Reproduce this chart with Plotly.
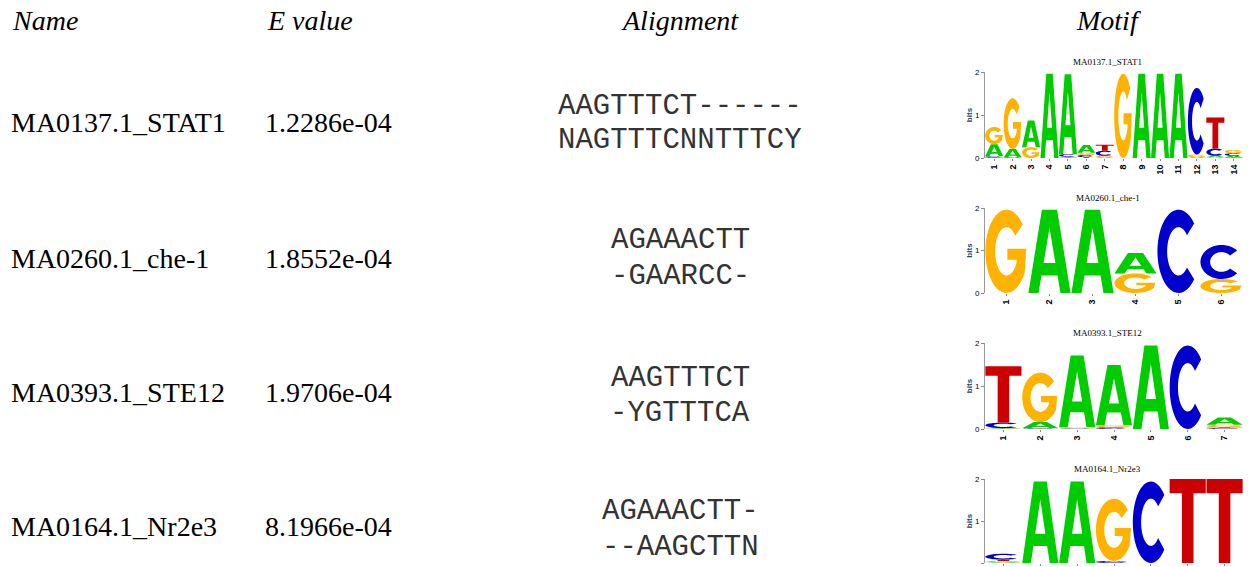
import numpy as np
import plotly.graph_objects as go

W, H = 1260, 567

# ---------------- table data ----------------
headers = ["Name", "E value", "Alignment", "Motif"]
names = ["MA0137.1_STAT1", "MA0260.1_che-1", "MA0393.1_STE12", "MA0164.1_Nr2e3"]
evalues = ["1.2286e-04", "1.8552e-04", "1.9706e-04", "8.1966e-04"]
align_query = ["AAGTTTCT------", "AGAAACTT", "AAGTTTCT", "AGAAACTT-"]
align_target = ["NAGTTTCNNTTTCY", "-GAARCC-", "-YGTTTCA", "--AAGCTTN"]

# ---------------- motif logo data (bits per letter per position) ----------------
stat1_A = [0.28, 0.20, 0.62, 1.96, 1.86, 0.18, 0.02, 0.00, 1.96, 1.96, 1.96, 0.02, 0.03, 0.04]
stat1_C = [0.03, 0.01, 0.00, 0.00, 0.06, 0.05, 0.12, 0.00, 0.00, 0.00, 0.00, 1.55, 0.17, 0.06]
stat1_G = [0.40, 1.18, 0.25, 0.00, 0.02, 0.05, 0.03, 1.96, 0.00, 0.00, 0.00, 0.06, 0.02, 0.08]
stat1_T = [0.01, 0.00, 0.00, 0.00, 0.01, 0.02, 0.14, 0.00, 0.00, 0.00, 0.00, 0.00, 0.72, 0.01]

che1_A = [0.00, 1.96, 1.96, 0.48, 0.00, 0.00]
che1_C = [0.00, 0.00, 0.00, 0.00, 1.96, 0.80]
che1_G = [1.96, 0.00, 0.00, 0.46, 0.00, 0.33]
che1_T = [0.00, 0.00, 0.00, 0.00, 0.00, 0.00]

ste12_A = [0.01, 0.14, 1.67, 1.40, 1.94, 0.00, 0.17]
ste12_C = [0.13, 0.01, 0.01, 0.04, 0.00, 1.94, 0.02]
ste12_G = [0.01, 1.15, 0.03, 0.05, 0.00, 0.00, 0.06]
ste12_T = [1.31, 0.01, 0.00, 0.00, 0.00, 0.00, 0.02]

nr2e3_A = [0.02, 1.94, 1.94, 0.00, 0.00, 0.00, 0.00]
nr2e3_C = [0.14, 0.00, 0.00, 0.05, 1.94, 0.00, 0.00]
nr2e3_G = [0.03, 0.00, 0.00, 1.48, 0.00, 0.00, 0.00]
nr2e3_T = [0.03, 0.00, 0.00, 0.00, 0.00, 2.00, 2.00]

motifs = [
    {"A": stat1_A, "C": stat1_C, "G": stat1_G, "T": stat1_T},
    {"A": che1_A, "C": che1_C, "G": che1_G, "T": che1_T},
    {"A": ste12_A, "C": ste12_C, "G": ste12_G, "T": ste12_T},
    {"A": nr2e3_A, "C": nr2e3_C, "G": nr2e3_G, "T": nr2e3_T},
]

COLORS = {"A": "#00CC00", "C": "#0000CC", "G": "#FFB300", "T": "#CC0000"}


# ---------------- glyph outlines in a unit box ----------------
def arc(cx, cy, rx, ry, a0, a1, n=48):
    t = np.radians(np.linspace(a0, a1, n))
    return list(zip(cx + rx * np.cos(t), cy + ry * np.sin(t)))


GLYPHS = {
    "A": [[(0, 0), (0.32, 1), (0.68, 1), (1, 0), (0.76, 0), (0.69, 0.21), (0.31, 0.21), (0.24, 0)],
          [(0.36, 0.36), (0.64, 0.36), (0.5, 0.78)]],
    "T": [[(0, 1), (1, 1), (1, 0.83), (0.66, 0.83), (0.66, 0), (0.34, 0), (0.34, 0.83), (0, 0.83)]],
    "C": [arc(.5, .5, .5, .5, 42, 318) + arc(.5, .5, .27, .29, 318, 42)],
    "G": [arc(.5, .5, .5, .5, 40, 330) + [(0.97, 0.53), (0.52, 0.53), (0.52, 0.40), (0.74, 0.40)]
          + arc(.5, .5, .27, .29, 330, 40)],
}


def glyph_path(letter, x0, x1, y0, y1):
    parts = []
    for loop in GLYPHS[letter]:
        pts = [(x0 + u * (x1 - x0), y0 + v * (y1 - y0)) for u, v in loop]
        parts.append("M" + "L".join(f"{x:.4f},{y:.5f}" for x, y in pts) + "Z")
    return "".join(parts)


def px_x(p):
    return p / W


def px_y(p):
    return 1 - p / H


fig = go.Figure()
ann = []
shapes = []

serif = "Liberation Serif, Times New Roman, serif"
mono = "Liberation Mono, Courier New, monospace"

# headers
hdr_pos = [(10, "left"), (265, "left"), (680, "center"), (1108, "center")]
for text, (x, anc) in zip(headers, hdr_pos):
    ann.append(dict(x=px_x(x), y=px_y(21), xref="paper", yref="paper", text=f"<i>{text}</i>",
                    showarrow=False, xanchor=anc, yanchor="middle",
                    font=dict(family=serif, size=28, color="black")))

row_centers = [122, 258, 392, 526]
line1 = [106, 241, 378, 511]
line2 = [141, 276, 413, 547]
for i in range(4):
    ann.append(dict(x=px_x(9), y=px_y(row_centers[i]), xref="paper", yref="paper", text=names[i],
                    showarrow=False, xanchor="left", yanchor="middle",
                    font=dict(family=serif, size=28, color="black")))
    ann.append(dict(x=px_x(263), y=px_y(row_centers[i]), xref="paper", yref="paper", text=evalues[i],
                    showarrow=False, xanchor="left", yanchor="middle",
                    font=dict(family=serif, size=28, color="black")))
    for yy, s in ((line1[i], align_query[i]), (line2[i], align_target[i])):
        ann.append(dict(x=px_x(680), y=px_y(yy), xref="paper", yref="paper", text=s,
                        showarrow=False, xanchor="center", yanchor="middle",
                        font=dict(family=mono, size=29, color="#333")))

# logos
logo_top = [72, 208, 343, 479]
logo_bot = [158, 293, 429, 563]
lx0, lx1 = 985, 1243
layout_axes = {}
for k, m in enumerate(motifs):
    idx = "" if k == 0 else str(k + 1)
    n = len(m["A"])
    positions = list(range(1, n + 1))
    layout_axes[f"xaxis{idx}"] = dict(
        domain=[px_x(lx0), px_x(lx1)], range=[0.5, n + 0.5], anchor=f"y{idx}",
        tickvals=positions, ticktext=[f"<b>{p}</b>" for p in positions], tickangle=-90,
        tickfont=dict(family="Liberation Sans, Arial", size=9, color="black"),
        ticks="outside", ticklen=2, tickcolor="#888", showline=False, showgrid=False,
        zeroline=False, fixedrange=True, automargin=False)
    layout_axes[f"yaxis{idx}"] = dict(
        domain=[px_y(logo_bot[k]), px_y(logo_top[k])], range=[0, 2], anchor=f"x{idx}",
        tickvals=[0, 1, 2], tickfont=dict(family="Liberation Sans, Arial", size=8, color="black"),
        ticks="outside", ticklen=3, tickcolor="#888", showline=True, linecolor="#999", linewidth=1,
        showgrid=False, zeroline=False, fixedrange=True, automargin=False,
        title=dict(text="<b>bits</b>", font=dict(family="Liberation Sans, Arial", size=8), standoff=1))
    fig.add_trace(go.Scatter(x=positions, y=[0] * n, mode="markers", marker=dict(opacity=0),
                             hoverinfo="skip", showlegend=False, xaxis=f"x{idx}", yaxis=f"y{idx}"))
    for j, p in enumerate(positions):
        stack = sorted([(m[L][j], L) for L in "ACGT" if m[L][j] > 0])
        base = 0.0
        for h, L in stack:
            shapes.append(dict(type="path", path=glyph_path(L, p - 0.49, p + 0.49, base, base + h),
                               xref=f"x{idx}", yref=f"y{idx}", fillcolor=COLORS[L],
                               line=dict(width=0), fillrule="evenodd", layer="above"))
            base += h
    ann.append(dict(x=(px_x(lx0) + px_x(lx1)) / 2 - 0.005, y=px_y(logo_top[k] - 10), xref="paper",
                    yref="paper", text=names[k], showarrow=False, xanchor="center", yanchor="middle",
                    font=dict(family=serif, size=9, color="black")))

fig.update_layout(width=W, height=H, margin=dict(l=0, r=0, t=0, b=0, autoexpand=False),
                  paper_bgcolor="white", plot_bgcolor="white", showlegend=False,
                  annotations=ann, shapes=shapes, **layout_axes)

fig.write_html("out.html", config={"displayModeBar": False},
               post_script="document.body.style.margin='0';")
